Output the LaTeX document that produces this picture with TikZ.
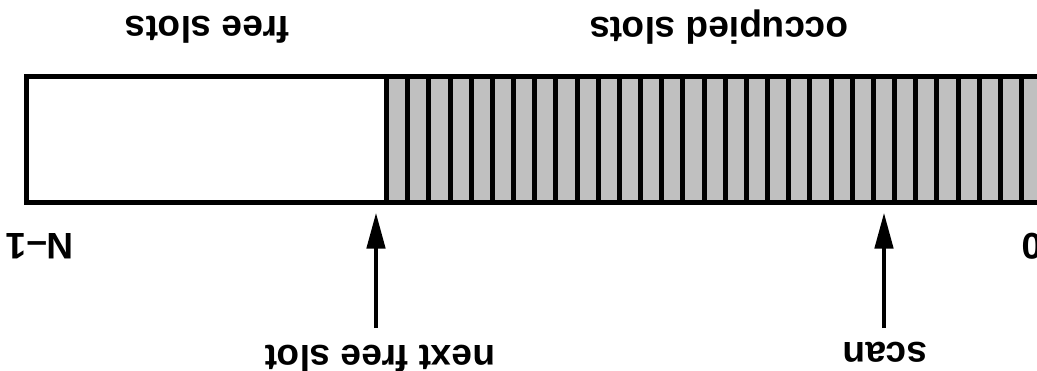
\documentclass[tikz,border=0pt]{standalone}
\usepackage{fontspec}
\setmainfont{Liberation Sans}
\usetikzlibrary{arrows.meta}
\definecolor{slotgray}{RGB}{192,192,192}
\begin{document}
\begin{tikzpicture}[x=1pt,y=-1pt,
  lbl/.style={rotate=180,anchor=base,inner sep=0pt,font=\fontsize{37}{40}\selectfont\bfseries},
  ptr/.style={line width=4.5pt,-{Triangle[length=36pt,width=18pt]}},
  frame/.style={line width=5pt,line join=miter}]
\useasboundingbox (0,0) rectangle (1037,370);
\clip (0,0) rectangle (1037,370);
% occupied slots
\fill[slotgray] (386.5,76.5) rectangle (1070,202.5);
\foreach \k in {0,...,31}
  \draw[frame] (386.5+21.17*\k,76.5) -- (386.5+21.17*\k,202.5);
% outer frame
\draw[frame] (1070,76.5) -- (26.5,76.5) -- (26.5,202.5) -- (1070,202.5);
% labels
\node[lbl] (free) at (207.5,16.5) {free slots};
\node[lbl] (occ) at (719,17) {occupied slots};
\node[lbl] (nm1) at (40,233) {N–1};
\node[lbl] (zero) at (1032,233) {0};
\node[lbl] (nfs) at (380,345) {next free slot};
\node[lbl] (scan) at (885,342) {scan};
% pointers
\coordinate (nfsTail) at (376,328);
\coordinate (nfsTip) at (376,212.5);
\coordinate (scanTail) at (884,328);
\coordinate (scanTip) at (884,212.5);
\draw[ptr] (nfsTail) -- (nfsTip);
\draw[ptr] (scanTail) -- (scanTip);
\end{tikzpicture}
\end{document}
